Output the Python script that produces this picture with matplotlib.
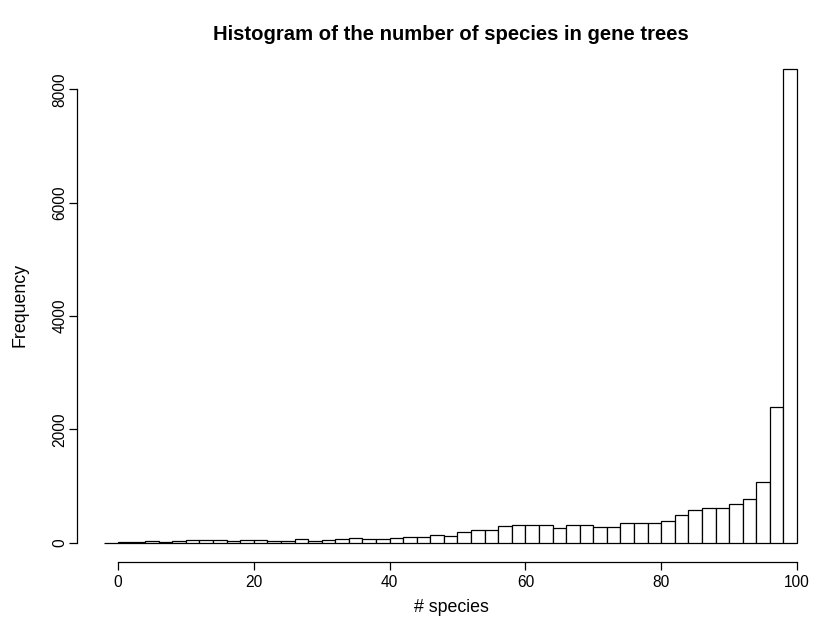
import numpy as np
import matplotlib
matplotlib.use("Agg")
import matplotlib.pyplot as plt

plt.rcParams['font.family'] = ['Liberation Sans', 'DejaVu Sans']

# histogram of species counts per gene tree, bins of width 2
bin_edges = np.arange(-2, 101, 2)
counts = [
    2, 5, 15, 35, 20, 38, 42, 42, 40, 38,
    48, 42, 35, 25, 58, 28, 50, 65, 75, 57,
    57, 80, 94, 94, 129, 118, 192, 222, 215, 295,
    310, 308, 305, 260, 310, 310, 275, 275, 345, 345,
    340, 390, 485, 585, 610, 610, 690, 775, 1075, 2390,
    8350,
]
x_ticks = [0, 20, 40, 60, 80, 100]
y_ticks = [0, 2000, 4000, 6000, 8000]

W, H = 813, 628
fig = plt.figure(figsize=(W / 100, H / 100), dpi=100)

# plot region in pixels (R-like layout, 4% padding around data range)
x0, x1 = 76.7, 824.7
y_top, y_bot = 50.5, 561.6
ax = fig.add_axes([x0 / W, 1 - y_bot / H, (x1 - x0) / W, (y_bot - y_top) / H])

lo, hi = bin_edges[0], bin_edges[-1]
pad = 0.04 * (hi - lo)
ax.set_xlim(lo - pad, hi + pad)
ymax = max(counts)
ax.set_ylim(-0.04 * ymax, ymax * 1.04)

ax.bar(bin_edges[:-1], counts, width=2, align='edge',
       color='white', edgecolor='black', linewidth=0.9)

for s in ['top', 'right']:
    ax.spines[s].set_visible(False)
ax.spines['left'].set_bounds(y_ticks[0], y_ticks[-1])
ax.spines['bottom'].set_bounds(x_ticks[0], x_ticks[-1])
for s in ['left', 'bottom']:
    ax.spines[s].set_linewidth(0.9)

ax.set_xticks(x_ticks)
ax.set_yticks(y_ticks)
ax.set_yticklabels([str(v) for v in y_ticks], rotation=90, va='center')
ax.tick_params(axis='both', direction='out', length=6, width=0.9,
               labelsize=11.2, color='black')
ax.tick_params(axis='x', pad=4)
ax.tick_params(axis='y', pad=0.5)

fig.text(451 / W, 1 - 34 / H, 'Histogram of the number of species in gene trees',
         ha='center', va='center', fontsize=14.6, fontweight='bold')
fig.text(451 / W, 1 - 608 / H, '# species', ha='center', va='center', fontsize=12.8)
fig.text(20 / W, 1 - 305 / H, 'Frequency', ha='center', va='center',
         rotation=90, fontsize=12.8)

fig.savefig('out.png', dpi=100)
